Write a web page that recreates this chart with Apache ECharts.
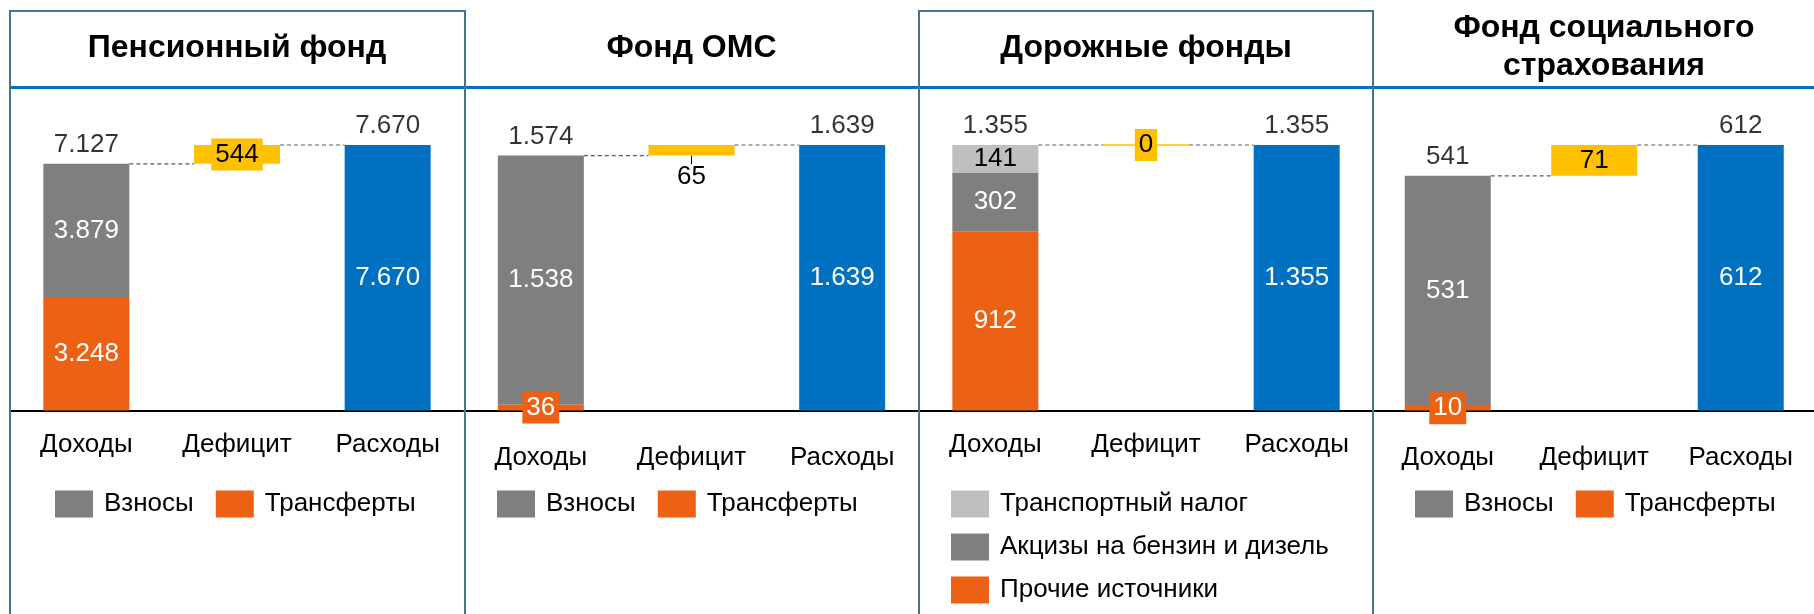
<!DOCTYPE html>
<html>
<head>
<meta charset="utf-8">
<script src="https://cdn.jsdelivr.net/npm/echarts@6/dist/echarts.min.js"></script>
<style>
  html, body { margin: 0; padding: 0; background: #fff; }
  #main { width: 1814px; height: 614px; }
</style>
</head>
<body>
<div id="main"></div>
<script>
var categories = ["Доходы", "Дефицит", "Расходы"];
var titles = ["Пенсионный фонд", "Фонд ОМС", "Дорожные фонды", "Фонд социального\nстрахования"];

// panels 0, 1, 3 (pension, OMS, social insurance)
var vznosy = [3879, 1538, null, 531];
var transfers = [3248, 36, null, 10];
// panel 2 (road funds)
var transportTax = 141;
var excise = 302;
var otherSources = 912;

var income = [7127, 1574, 1355, 541];
var deficit = [544, 65, 0, 71];
var expenses = [7670, 1639, 1355, 612];

var FONT = "'Liberation Sans', Arial, sans-serif";
var GRAY = "#7f7f7f", ORANGE = "#ec6113", BLUE = "#0070c0", YELLOW = "#ffc000", LIGHT = "#bfbfbf";
var BAR_W = 86;

var panelLeft = [11, 465.5, 920, 1374.5];
var panelW = 452;
var labelMargin = [21, 34, 21, 34];
var legendLeft = [55, 497, 951, 1415];

function fmt(v) {
  return String(v).replace(/\B(?=(\d{3})+(?!\d))/g, ".");
}
function fmtLabel(p) { return fmt(p.value); }

var chartDom = document.getElementById("main");
var myChart = echarts.init(chartDom, null, { renderer: "canvas" });

var grids = [], xAxes = [], yAxes = [], series = [], legends = [], titleList = [];

for (var p = 0; p < 4; p++) {
  grids.push({ left: panelLeft[p], width: panelW, top: 145, height: 265.4 });
  xAxes.push({
    type: "category", gridIndex: p, data: categories,
    axisLine: { lineStyle: { color: "#000", width: 2 } },
    axisTick: { show: false },
    axisLabel: { fontFamily: FONT, fontSize: 26, color: "#000", margin: labelMargin[p] }
  });
  yAxes.push({ type: "value", gridIndex: p, min: 0, max: expenses[p], show: false, splitLine: { show: false } });

  var stack = "s" + p;
  var common = { type: "bar", stack: stack, xAxisIndex: p, yAxisIndex: p, barWidth: BAR_W };
  var insideWhite = { show: true, position: "inside", color: "#fff", fontFamily: FONT, fontSize: 26, formatter: fmtLabel };

  if (p === 2) {
    series.push(Object.assign({}, common, {
      name: "Прочие источники", data: [otherSources, "-", "-"],
      itemStyle: { color: ORANGE }, label: insideWhite
    }));
    series.push(Object.assign({}, common, {
      name: "Акцизы на бензин и дизель", data: [excise, "-", "-"],
      itemStyle: { color: GRAY }, label: insideWhite
    }));
    series.push(Object.assign({}, common, {
      name: "Транспортный налог", data: [transportTax, "-", "-"],
      itemStyle: { color: LIGHT }, label: Object.assign({}, insideWhite, { color: "#000" })
    }));
  } else {
    var small = transfers[p] < 200;
    series.push(Object.assign({}, common, {
      name: "Трансферты", data: [transfers[p], "-", "-"],
      itemStyle: { color: ORANGE },
      label: Object.assign({}, insideWhite, small ? { backgroundColor: ORANGE, padding: [3, 4], lineHeight: 26 } : {})
    }));
    series.push(Object.assign({}, common, {
      name: "Взносы", data: [vznosy[p], "-", "-"],
      itemStyle: { color: GRAY }, label: insideWhite
    }));
  }

  // invisible base for the floating deficit bar
  series.push(Object.assign({}, common, {
    name: "base", data: ["-", income[p], "-"], silent: true,
    itemStyle: { color: "transparent" }, label: { show: false }
  }));

  var defLabel = { show: true, position: "inside", color: "#000", fontFamily: FONT, fontSize: 26, formatter: fmtLabel };
  var defExtra = {};
  var defStyle = { color: YELLOW };
  if (p === 0 || p === 2) {
    defLabel.backgroundColor = YELLOW;
    defLabel.padding = [3, 4];
    defLabel.lineHeight = 26;
  }
  if (p === 1) {
    defExtra.labelLayout = { dy: 27 };
    defExtra.labelLine = { show: true, length2: 0, lineStyle: { color: "#000", width: 1 } };
  }
  if (deficit[p] === 0) {
    // zero-height bar still shows as a thin yellow line
    defStyle.borderColor = YELLOW;
    defStyle.borderWidth = 1.5;
  }
  series.push(Object.assign({}, common, defExtra, {
    name: "Дефицит", data: ["-", deficit[p], "-"],
    itemStyle: defStyle, label: defLabel
  }));

  series.push(Object.assign({}, common, {
    name: "Расходы", data: ["-", "-", expenses[p]],
    itemStyle: { color: BLUE }, label: insideWhite
  }));

  // totals above the bars
  series.push({
    type: "scatter", xAxisIndex: p, yAxisIndex: p, symbolSize: 0, silent: true,
    data: [income[p], "-", expenses[p]],
    label: { show: true, position: "top", distance: 6, color: "#000", fontFamily: FONT, fontSize: 26, formatter: fmtLabel }
  });

  // dashed connectors between the bars
  series.push({
    type: "custom", xAxisIndex: p, yAxisIndex: p, silent: true, z: 1,
    data: [[0, income[p], 1], [1, expenses[p], 2]],
    encode: { x: [0, 2], y: 1 },
    renderItem: function (params, api) {
      var a = api.coord([api.value(0), api.value(1)]);
      var b = api.coord([api.value(2), api.value(1)]);
      var hw = BAR_W / 2;
      return {
        type: "line",
        shape: { x1: a[0] + hw, y1: a[1], x2: b[0] - hw, y2: b[1] },
        style: { stroke: "#595959", lineWidth: 1.2, lineDash: [4, 3] }
      };
    }
  });

  legends.push({
    left: legendLeft[p], top: 490, padding: 0,
    orient: p === 2 ? "vertical" : "horizontal",
    itemGap: p === 2 ? 15 : 22,
    itemWidth: 38, itemHeight: 27, icon: "rect",
    textStyle: { fontFamily: FONT, fontSize: 26, color: "#000", lineHeight: 28, padding: [0, 0, 0, 6] },
    selectedMode: false,
    data: p === 2 ? ["Транспортный налог", "Акцизы на бензин и дизель", "Прочие источники"] : ["Взносы", "Трансферты"]
  });

  titleList.push({
    text: titles[p],
    left: p === 3 ? 1604 : panelLeft[p] + panelW / 2,
    top: p === 3 ? 9 : 29,
    textAlign: "center",
    padding: 0,
    textStyle: { fontFamily: FONT, fontSize: 32, fontWeight: "bold", color: "#000", lineHeight: 38 }
  });
}

var option = {
  backgroundColor: "#fff",
  animation: false,
  title: titleList,
  legend: legends,
  grid: grids,
  xAxis: xAxes,
  yAxis: yAxes,
  series: series,
  graphic: [
    { type: "line", z: 0, shape: { x1: 10, y1: 87.5, x2: 1814, y2: 87.5 }, style: { stroke: BLUE, lineWidth: 3 } },
    { type: "polyline", z: 1, shape: { points: [[10, 614], [10, 11], [465, 11], [465, 614]] }, style: { stroke: "#44758d", lineWidth: 2, fill: null } },
    { type: "polyline", z: 1, shape: { points: [[919, 614], [919, 11], [1373, 11], [1373, 614]] }, style: { stroke: "#44758d", lineWidth: 2, fill: null } }
  ]
};

option && myChart.setOption(option);
</script>
</body>
</html>
